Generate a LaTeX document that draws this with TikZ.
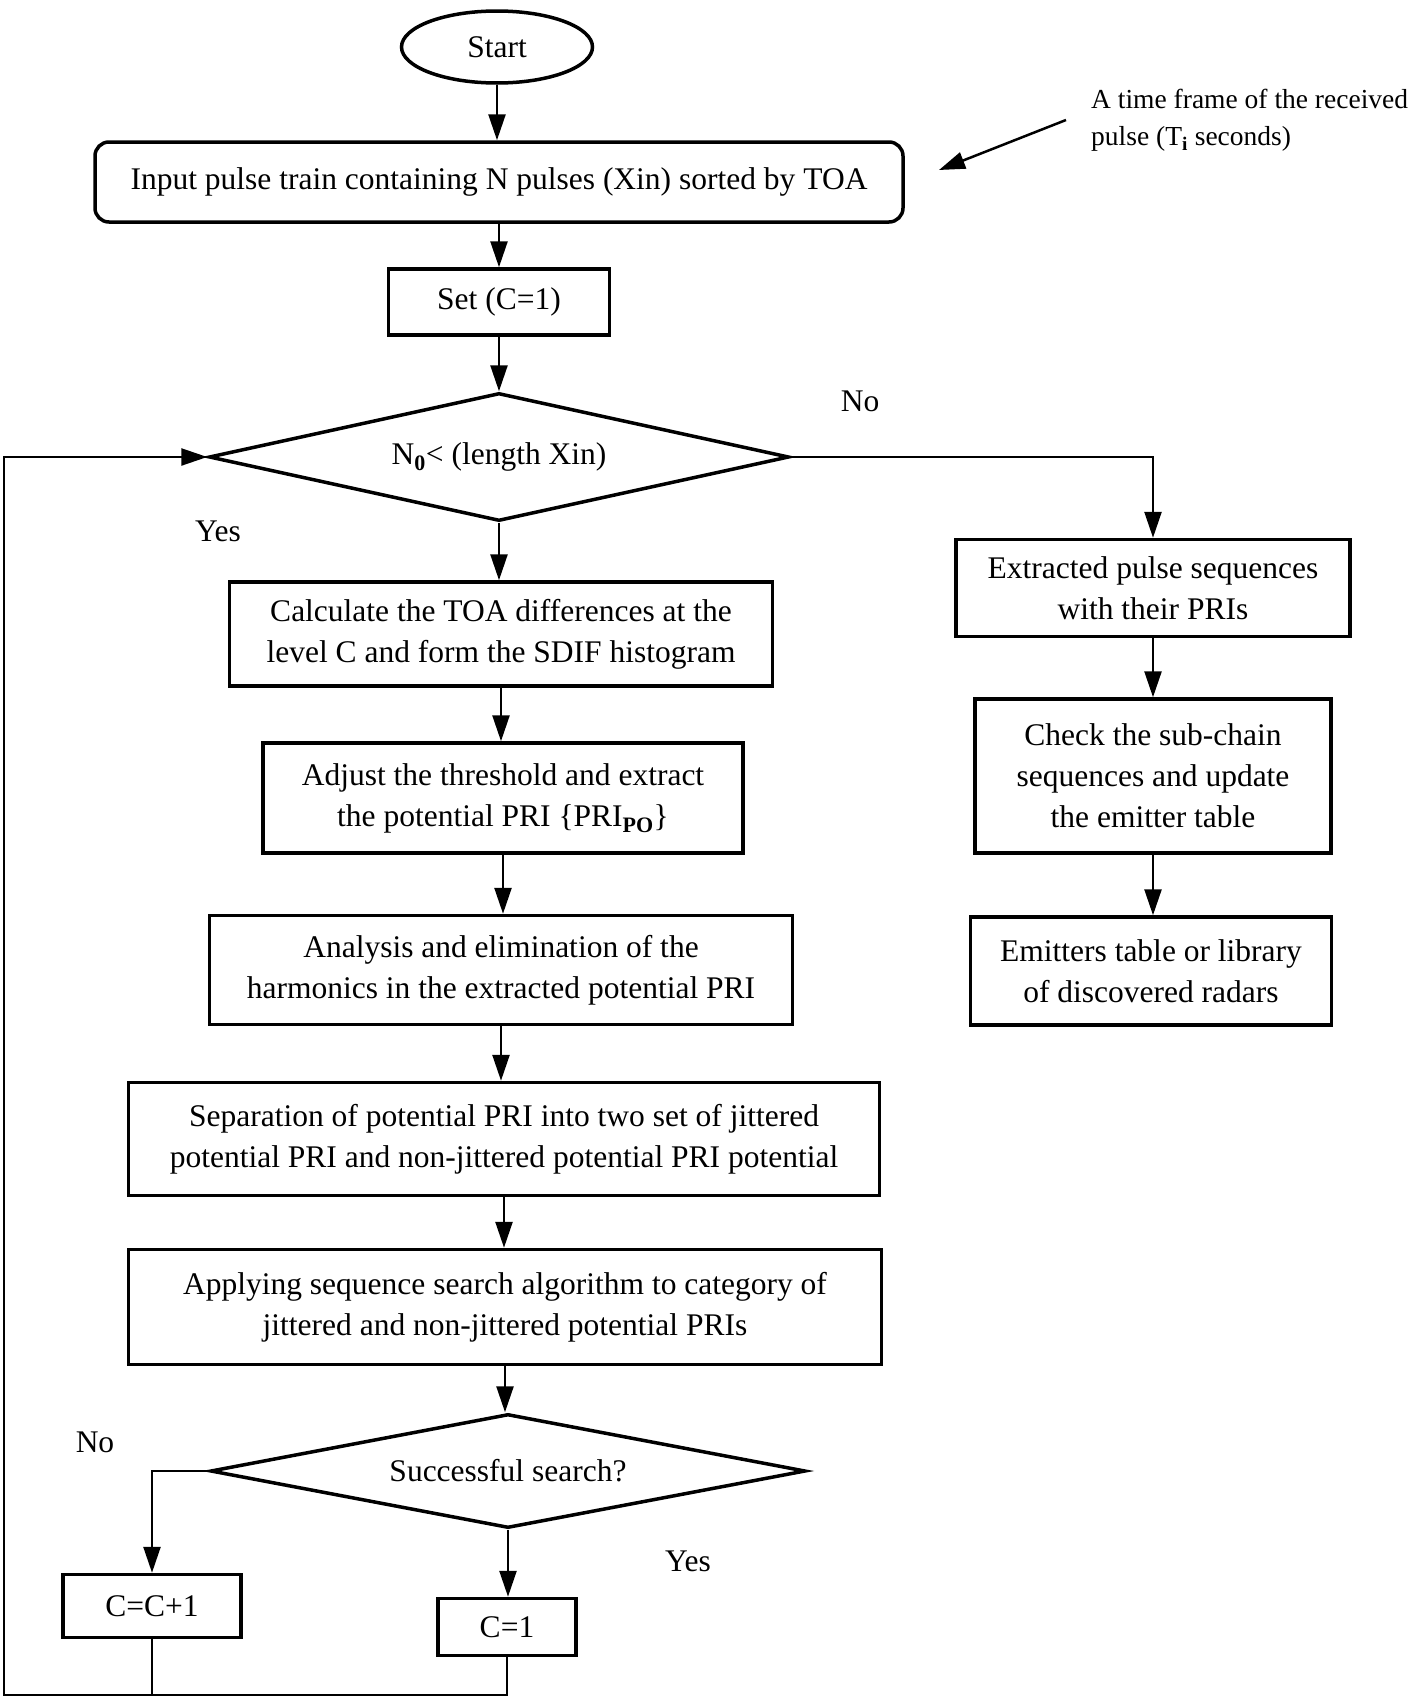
\documentclass[tikz,border=0pt]{standalone}
\usepackage{fontspec}
\setmainfont{Liberation Serif}
\usetikzlibrary{arrows.meta}
\usetikzlibrary{shapes.geometric}
\newcommand{\TS}{\fontsize{31.5}{41}\selectfont}
\newcommand{\NS}{\fontsize{27.5}{37}\selectfont}
\newcommand{\lwb}{3.5pt}
\newcommand{\lwc}{2.5pt}
\tikzset{
    blk/.style={draw=black,line width=\lwb,align=center,inner sep=0pt,font=\TS},
    dec/.style={draw=black,line width=\lwb,shape=diamond,align=center,inner sep=0pt,font=\TS},
    flow/.style={line width=\lwc,-{Triangle[length=26pt,width=17pt]}},
    lbl/.style={font=\TS}
}

\begin{document}
\begin{tikzpicture}[x=1pt,y=-1pt]
    \useasboundingbox (0,0) rectangle (1416,1700);

    % main column
    \node[blk,shape=ellipse,minimum width=191pt,minimum height=72pt] (start) at (497,47) {Start};
    \node[blk,rounded corners=14pt,minimum width=808pt,minimum height=80pt] (input) at (499,182) {Input pulse train containing N pulses (Xin) sorted by TOA};
    \node[blk,minimum width=221pt,minimum height=66pt] (set) at (499,302) {Set (C=1)};
    \node[dec,aspect=4.53,minimum width=580pt,minimum height=128pt] (len) at (499,457) {N\textsubscript{\textbf{0}}< (length Xin)};
    \node[blk,minimum width=543pt,minimum height=104pt] (calc) at (501,634) {Calculate the TOA differences at the\\level C and form the SDIF histogram};
    \node[blk,minimum width=480pt,minimum height=110pt] (adj) at (503,798) {Adjust the threshold and extract\\the potential PRI \{PRI\textsubscript{\textbf{PO}}\}};
    \node[blk,minimum width=583pt,minimum height=109pt] (harm) at (501,970) {Analysis and elimination of the\\harmonics in the extracted potential PRI};
    \node[blk,minimum width=751pt,minimum height=113pt] (sep) at (504,1139) {Separation of potential PRI into two set of jittered\\potential PRI and non-jittered potential PRI potential};
    \node[blk,minimum width=753pt,minimum height=115pt] (appl) at (505,1307) {Applying sequence search algorithm to category of\\jittered and non-jittered potential PRIs};
    \node[dec,aspect=5.22,minimum width=595pt,minimum height=114pt] (succ) at (508,1471) {Successful search?};
    \node[blk,minimum width=178pt,minimum height=63pt] (cinc) at (152,1606) {C=C+1};
    \node[blk,minimum width=138pt,minimum height=57pt] (cone) at (507,1627) {C=1};

    % right column
    \node[blk,minimum width=394pt,minimum height=97pt] (extr) at (1153,588) {Extracted pulse sequences\\with their PRIs};
    \node[blk,minimum width=356pt,minimum height=154pt] (check) at (1153,776) {Check the sub-chain\\sequences and update\\the emitter table};
    \node[blk,minimum width=361pt,minimum height=108pt] (emit) at (1151,971) {Emitters table or library\\of discovered radars};

    % note
    \node[font=\NS,align=left,anchor=north west,inner sep=0pt] (note) at (1091,89) {A time frame of the received\\pulse (T\textsubscript{\textbf{i}} seconds)};
    \coordinate (noteA) at (1066,120);
    \coordinate (noteB) at (939,170);
    \draw[flow] (noteA) -- (noteB);

    \node[lbl] (lNo) at (860,401) {No};
    \node[lbl] (lYes) at (218,531) {Yes};
    \node[lbl] (sNo) at (95,1442) {No};
    \node[lbl] (sYes) at (688,1561) {Yes};

    \draw[flow] (start.south) -- (start.south |- input.north);
    \draw[flow] (input.south) -- (input.south |- set.north);
    \draw[flow] (set.south) -- (set.south |- len.north);
    \draw[flow] (len.south) -- (len.south |- calc.north);
    \draw[flow] (calc.south) -- (calc.south |- adj.north);
    \draw[flow] (adj.south) -- (adj.south |- harm.north);
    \draw[flow] (harm.south) -- (harm.south |- sep.north);
    \draw[flow] (sep.south) -- (sep.south |- appl.north);
    \draw[flow] (appl.south) -- (appl.south |- succ.north);
    \draw[flow] (succ.south) -- (succ.south |- cone.north);
    \draw[flow] (succ.west) -| (cinc.north);

    \draw[flow] (len.east) -| (extr.north);
    \draw[flow] (extr.south) -- (extr.south |- check.north);
    \draw[flow] (check.south) -- (check.south |- emit.north);

    % loop back
    \coordinate (loopB) at (4,1695);
    \draw[line width=\lwc] (cinc.south) -- (cinc.south |- loopB);
    \draw[flow] (cone.south) |- (loopB) |- (len.west);
\end{tikzpicture}
\end{document}
